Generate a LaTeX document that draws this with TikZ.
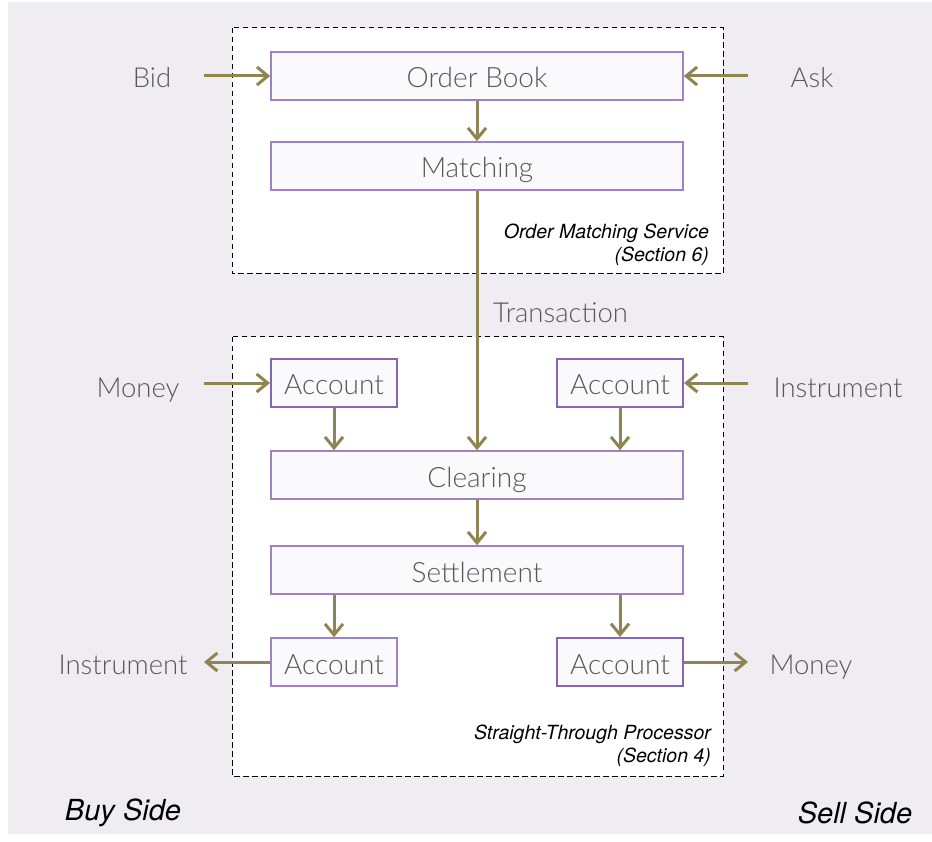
\documentclass[tikz,border=0pt]{standalone}
\usepackage{fontspec}
\newfontfamily\lightfont{Lato Light}
\newfontfamily\helv{TeX Gyre Heros}
\usetikzlibrary{arrows.meta}

\definecolor{bggray}{RGB}{239,237,242}
\definecolor{boxfill}{RGB}{250,249,252}
\definecolor{boxline}{RGB}{160,130,195}
\definecolor{accline}{RGB}{135,100,180}
\definecolor{flowcol}{RGB}{143,133,82}
\definecolor{txtgray}{RGB}{88,88,88}

\tikzset{every picture/.style={line width=0.75pt}}

\begin{document}
\begin{tikzpicture}[x=1pt,y=1pt,yscale=-1,xscale=1,
  stage/.style={draw=boxline, fill=boxfill, line width=1.5pt, minimum width=412pt, minimum height=48pt, inner sep=0pt, text height=27pt, text depth=3pt, font=\lightfont\fontsize{28}{30}\selectfont, text=txtgray},
  acct/.style={stage, minimum width=126pt, draw=accline, line width=2pt},
  side/.style={inner sep=0.75pt, anchor=base, font=\lightfont\fontsize{27.5}{30}\selectfont, text=txtgray},
  note/.style={inner sep=0.75pt, align=right, anchor=east, font=\helv\itshape\fontsize{19.5}{23}\selectfont},
  flow/.style={draw=flowcol, line width=3pt, -{Straight Barb[length=11pt,width=18pt,line width=3pt]}},
  svc/.style={draw=black, fill=white, line width=1pt, dash pattern=on 5.5pt off 3.5pt}
]
%uncomment if require: \path (0,842); %set diagram left start at 0, and has height of 842
\useasboundingbox (0,0) rectangle (932,842);
\fill[white] (0,0) rectangle (932,842);

%Shape: Rectangle (background)
\fill[bggray] (8,2) rectangle (932,834);
%Shape: Rectangle (order matching service)
\draw[svc] (232,28) rectangle (723,274);
%Shape: Rectangle (straight-through processor)
\draw[svc] (232,337) rectangle (723,776);

% Coordinates for the outer arrow ends
\coordinate (inL) at (204,0);
\coordinate (inR) at (748,0);

% Stages
\node[stage] (book) at (477,76) {Order Book};
\node[stage] (match) at (477,166) {Matching};
\node[stage] (clear) at (477,475) {Clearing};
\node[stage] (settle) at (477,570) {Settlement};

% Accounts
\node[acct] (accIL) at (334,383) {Account};
\node[acct] (accIR) at (620,383) {Account};
\node[acct, draw=boxline, line width=1.5pt] (accOL) at (334,662) {Account};
\node[acct] (accOR) at (620,662) {Account};

% Text Node
\node[side] (bid) at (152,88) {Bid};
% Text Node
\node[side] (ask) at (812,88) {Ask};
% Text Node
\node[side] (moneyIn) at (138,397) {Money};
% Text Node
\node[side] (instrIn) at (838,397) {Instrument};
% Text Node
\node[side] (instrOut) at (123,674) {Instrument};
% Text Node
\node[side] (moneyOut) at (811,674) {Money};
% Text Node
\node[side, anchor=base west] (trans) at (492,323) {Transaction};
% Text Node
\node[note] (omsNote) at (710,245) {Order Matching Service\\(Section 6)};
% Text Node
\node[note] (stpNote) at (712,746) {Straight-Through Processor\\(Section 4)};
% Text Node
\node[inner sep=0.75pt, font=\helv\itshape\fontsize{29}{31}\selectfont] (buy) at (123,813) {Buy Side};
% Text Node
\node[inner sep=0.75pt, font=\helv\itshape\fontsize{29}{31}\selectfont] (sell) at (855,813) {Sell Side};

% Flows
\draw[flow] (inL |- book) -- (book.west);
\draw[flow] (inR |- book) -- (book.east);
\draw[flow] (book) -- (match);
\draw[flow] (match) -- (clear);
\draw[flow] (inL |- accIL) -- (accIL.west);
\draw[flow] (inR |- accIR) -- (accIR.east);
\draw[flow] (accIL) -- (accIL |- clear.north);
\draw[flow] (accIR) -- (accIR |- clear.north);
\draw[flow] (clear) -- (settle);
\draw[flow] (accOL |- settle.south) -- (accOL);
\draw[flow] (accOR |- settle.south) -- (accOR);
\draw[flow] (accOL) -- (inL |- accOL);
\draw[flow] (accOR) -- (inR |- accOR);

\end{tikzpicture}
\end{document}
